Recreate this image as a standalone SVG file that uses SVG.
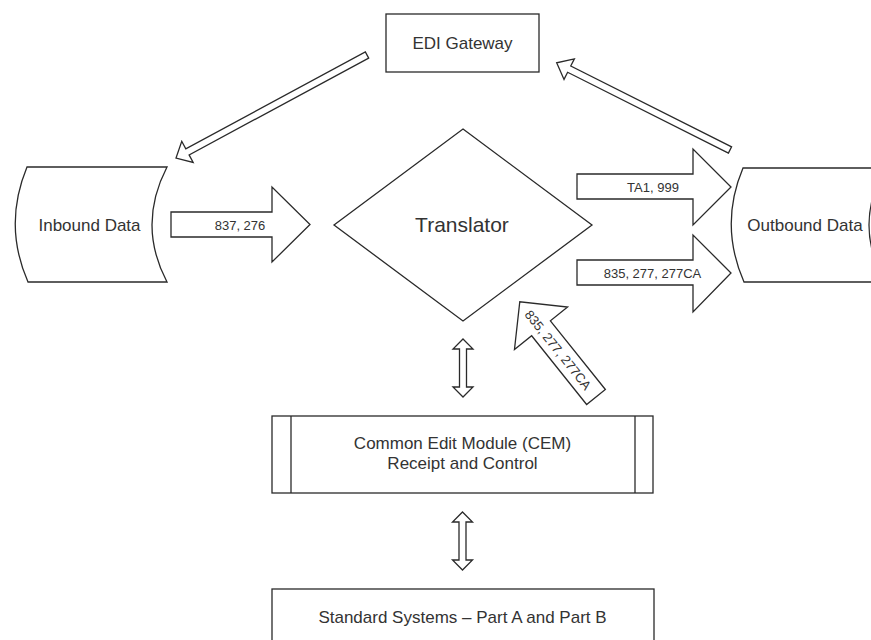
<svg xmlns="http://www.w3.org/2000/svg" width="871" height="640" viewBox="0 0 871 640">
<style>
  .shape { fill: #ffffff; stroke: #2a2a2a; stroke-width: 1.3; stroke-linejoin: miter; }
  .line { fill: none; stroke: #2a2a2a; stroke-width: 1.3; }
  .lbl { font-family: "Liberation Sans", Arial, sans-serif; fill: #333333; text-anchor: middle; dominant-baseline: central; }
  .big { font-size: 17px; }
  .title { font-size: 21px; }
  .small { font-size: 13px; }
</style>
<rect x="0" y="0" width="871" height="640" fill="#ffffff"/>

<g id="edi-gateway">
  <rect class="shape" x="386" y="14" width="153" height="58"/>
  <text class="lbl big" x="462.5" y="43">EDI Gateway</text>
</g>

<g id="inbound-data">
  <path class="shape" d="M27,167 L167,167 Q137,225 167,282 L28,282 Q3,225 27,167 Z"/>
  <text class="lbl big" x="89.5" y="225">Inbound Data</text>
</g>

<g id="translator">
  <polygon class="shape" points="463,129 592,225 463,321 334,225"/>
  <text class="lbl title" x="462" y="224">Translator</text>
</g>

<g id="outbound-data">
  <path class="shape" d="M743,168 L885,168 Q853,225 885,282 L744,282 Q719,225 743,168 Z"/>
  <text class="lbl big" x="805" y="225">Outbound Data</text>
</g>

<g id="cem">
  <rect class="shape" x="272" y="416" width="381" height="77"/>
  <line class="line" x1="291" y1="416" x2="291" y2="493"/>
  <line class="line" x1="635" y1="416" x2="635" y2="493"/>
  <text class="lbl big" x="462.5" y="443">Common Edit Module (CEM)</text>
  <text class="lbl big" x="462.5" y="463">Receipt and Control</text>
</g>

<g id="standard-systems">
  <rect class="shape" x="272" y="589" width="382" height="70"/>
  <text class="lbl big" x="462.5" y="617">Standard Systems – Part A and Part B</text>
</g>

<g id="connectors">
  <!-- EDI Gateway to Inbound Data -->
  <polygon class="shape" transform="translate(367,55) rotate(151.66)" points="0,-3.5 204,-3.5 204,-12 217,0 204,12 204,3.5 0,3.5"/>
  <!-- Outbound Data to EDI Gateway -->
  <polygon class="shape" transform="translate(730,150) rotate(-153.3)" points="0,-3.5 180,-3.5 180,-11.5 194,0 180,11.5 180,3.5 0,3.5"/>
  <!-- Inbound to Translator -->
  <polygon class="shape" points="171,212 272,212 272,187 310,224.5 272,262 272,237 171,237"/>
  <text class="lbl small" x="240" y="225">837, 276</text>
  <!-- Translator to Outbound: TA1, 999 -->
  <polygon class="shape" points="577,174 693,174 693,149 731,187 693,225 693,199 577,199"/>
  <text class="lbl small" x="653" y="187">TA1, 999</text>
  <!-- Translator to Outbound: 835, 277, 277CA -->
  <polygon class="shape" points="577,260 693,260 693,235 731,273 693,312 693,285 577,285"/>
  <text class="lbl small" x="652.5" y="273">835, 277, 277CA</text>
  <!-- CEM to Translator (diagonal) -->
  <polygon class="shape" transform="translate(596,397) rotate(-128.66)" points="0,-12 88,-12 88,-34 122,0 88,34 88,12 0,12"/>
  <text class="lbl small" transform="translate(558,350) rotate(51.34)" x="0" y="0">835, 277, 277CA</text>
  <!-- Translator <-> CEM -->
  <polygon class="shape" points="463,339 473,349 466.5,349 466.5,387 473,387 463,397 453,387 459.5,387 459.5,349 453,349"/>
  <!-- CEM <-> Standard Systems -->
  <polygon class="shape" points="462.5,512 472.5,522 466,522 466,560 472.5,560 462.5,570 452.5,560 459,560 459,522 452.5,522"/>
</g>
</svg>
